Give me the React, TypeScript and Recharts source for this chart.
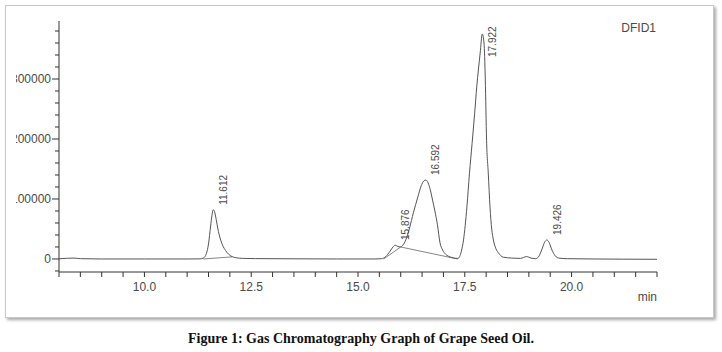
import { ComposedChart, Line, XAxis, YAxis, LabelList } from "recharts";

// retention time (min) and detector signal
const TIME = [
  8.0, 8.2, 8.35, 8.5, 9.0, 10.0, 11.0, 11.3, 11.38, 11.45, 11.5, 11.55, 11.58,
  11.61, 11.64, 11.68, 11.72, 11.77, 11.83, 11.9, 11.97, 12.05, 12.15, 12.3,
  12.6, 13.5, 14.5, 15.4, 15.55, 15.65, 15.75, 15.82, 15.87, 15.93, 15.99,
  16.05, 16.12, 16.2, 16.3, 16.4, 16.48, 16.54, 16.59, 16.64, 16.69, 16.74,
  16.8, 16.86, 16.92, 16.98, 17.05, 17.12, 17.2, 17.28, 17.34, 17.38, 17.42,
  17.47, 17.55, 17.61, 17.67, 17.73, 17.78, 17.86, 17.91, 17.95, 17.98, 18.01,
  18.05, 18.09, 18.13, 18.17, 18.23, 18.29, 18.4, 18.6, 18.8, 18.95, 19.05,
  19.15, 19.22, 19.3, 19.37, 19.42, 19.47, 19.54, 19.62, 19.7, 19.9, 20.5,
  21.2, 22.0,
];
const SIGNAL = [
  300, 1200, 1500, 500, 0, 0, 0, 200, 1500, 9000, 25000, 55000, 72000, 82000,
  79000, 66000, 50000, 35000, 23000, 14000, 8000, 4000, 2000, 1000, 600, 300,
  0, 0, 500, 4000, 13000, 20000, 23000, 21000, 20000, 23000, 32000, 50000,
  78000, 103000, 122000, 130000, 131700, 127000, 116000, 100000, 80000, 57000,
  27000, 15000, 8000, 4500, 2500, 1200, 1000, 4000, 13000, 31700, 87000,
  143000, 192000, 242000, 287000, 343000, 375000, 360000, 300000, 198000,
  143000, 87000, 50000, 31700, 17000, 10000, 3000, 1500, 1000, 4000, 1500,
  500, 3000, 15000, 28000, 31700, 28000, 15000, 5000, 1500, 500, 0, -300, -500,
];

// integration baselines drawn under the peaks
const BASE_A_TIME = [11.38, 12.05];
const BASE_A_SIGNAL = [0, 3500];
const BASE_B_TIME = [15.6, 16.0, 17.33];
const BASE_B_SIGNAL = [0, 20000, 0];

// peak apex labels
const PEAK_TIME = [11.612, 15.876, 16.592, 17.922, 19.426];
const PEAK_SIGNAL = [82000, 23300, 131700, 375000, 31700];
const PEAK_LABELS = ["11.612", "15.876", "16.592", "17.922", "19.426"];

const X_TICKS = [
  8.0, 8.5, 9.0, 9.5, 10.0, 10.5, 11.0, 11.5, 12.0, 12.5, 13.0, 13.5, 14.0,
  14.5, 15.0, 15.5, 16.0, 16.5, 17.0, 17.5, 18.0, 18.5, 19.0, 19.5, 20.0, 20.5,
  21.0, 21.5, 22.0,
];
const X_LABELED = [10.0, 12.5, 15.0, 17.5, 20.0];
const Y_TICKS = [
  -20000, 0, 20000, 40000, 60000, 80000, 100000, 120000, 140000, 160000,
  180000, 200000, 220000, 240000, 260000, 280000, 300000, 320000, 340000,
  360000, 380000,
];
const Y_LABELED = [0, 100000, 200000, 300000];

const trace = TIME.map((t, i) => ({ t, v: SIGNAL[i] }));
const baseA = BASE_A_TIME.map((t, i) => ({ t, v: BASE_A_SIGNAL[i] }));
const baseB = BASE_B_TIME.map((t, i) => ({ t, v: BASE_B_SIGNAL[i] }));
const peaks = PEAK_TIME.map((t, i) => ({ t, v: PEAK_SIGNAL[i], label: PEAK_LABELS[i] }));

const FONT = "'Liberation Sans', Arial, sans-serif";
const INK = "#4a4a4a";
const PLOT_TOP = 21;

function YTick(props: any) {
  const { x, y, payload } = props;
  const major = Y_LABELED.includes(payload.value);
  return (
    <g>
      <line x1={x - (major ? 7 : 4)} x2={x} y1={y} y2={y} stroke="#333" strokeWidth={1} />
      {major && (
        <text
          x={x - 8}
          y={y}
          textAnchor="end"
          dominantBaseline="central"
          fontFamily={FONT}
          fontSize={12}
          fill={INK}
        >
          {payload.value}
        </text>
      )}
    </g>
  );
}

function XTick(props: any) {
  const { x, y, payload } = props;
  if (!X_LABELED.includes(payload.value)) return <g />;
  return (
    <text x={x} y={y} dy="0.71em" textAnchor="middle" fontFamily={FONT} fontSize={12} fill={INK}>
      {payload.value.toFixed(1)}
    </text>
  );
}

function PeakLabel(props: any) {
  const { x, y, value } = props;
  const cx = x + 10;
  const bottom = Math.max(y - 5, PLOT_TOP + 36);
  return (
    <text
      x={cx}
      y={bottom}
      transform={`rotate(-90 ${cx} ${bottom})`}
      textAnchor="start"
      dominantBaseline="central"
      fontFamily={FONT}
      fontSize={10}
      fill={INK}
    >
      {value}
    </text>
  );
}

export default function App() {
  return (
    <div style={{ position: "absolute", left: 0, top: 0, width: 722, height: 352, background: "#fff" }}>
      <div
        style={{
          position: "absolute",
          left: 5,
          top: 5,
          width: 707,
          height: 311,
          border: "1px solid #c8c8c8",
          boxShadow: "2px 2px 3px rgba(0,0,0,0.35)",
          background: "#fff",
        }}
      />
      <div style={{ position: "absolute", left: 16, top: 7, width: 694, height: 308, overflow: "hidden" }}>
        <div style={{ position: "absolute", left: -16, top: -7 }}>
          <ComposedChart
            width={722}
            height={320}
            margin={{ top: PLOT_TOP, right: 65, bottom: 18, left: 0 }}
          >
            <XAxis
              dataKey="t"
              type="number"
              domain={[8, 22]}
              ticks={X_TICKS}
              interval={0}
              allowDataOverflow
              height={30}
              tickSize={5}
              tickMargin={5}
              tick={<XTick />}
              stroke="#333"
            />
            <XAxis xAxisId="top" orientation="top" type="number" domain={[8, 22]} height={0} tick={false} tickLine={false} stroke="#333" />
            <YAxis
              type="number"
              domain={[-21700, 396700]}
              ticks={Y_TICKS}
              interval={0}
              allowDataOverflow
              width={59}
              tickLine={false}
              tickSize={0}
              tickMargin={0}
              tick={<YTick />}
              stroke="#333"
            />
            <YAxis yAxisId="right" orientation="right" width={0} tick={false} tickLine={false} stroke="#333" />
            <Line data={baseA} dataKey="v" type="linear" stroke="#777" strokeWidth={0.9} dot={false} isAnimationActive={false} />
            <Line data={baseB} dataKey="v" type="linear" stroke="#777" strokeWidth={0.9} dot={false} isAnimationActive={false} />
            <Line data={trace} dataKey="v" type="monotone" stroke="#555" strokeWidth={1} dot={false} isAnimationActive={false} />
            <Line data={peaks} dataKey="v" stroke="none" dot={false} activeDot={false} isAnimationActive={false}>
              <LabelList dataKey="label" content={<PeakLabel />} />
            </Line>
          </ComposedChart>
        </div>
      </div>
      <div style={{ position: "absolute", right: 66, top: 21, fontFamily: FONT, fontSize: 12, color: INK }}>DFID1</div>
      <div style={{ position: "absolute", right: 65, top: 290, fontFamily: FONT, fontSize: 12, color: INK }}>min</div>
      <div
        style={{
          position: "absolute",
          left: 0,
          top: 330,
          width: 722,
          textAlign: "center",
          fontFamily: "'Liberation Serif', 'Times New Roman', serif",
          fontWeight: "bold",
          fontSize: 14,
          lineHeight: "18px",
          color: "#111",
        }}
      >
        Figure 1: Gas Chromatography Graph of Grape Seed Oil.
      </div>
    </div>
  );
}
